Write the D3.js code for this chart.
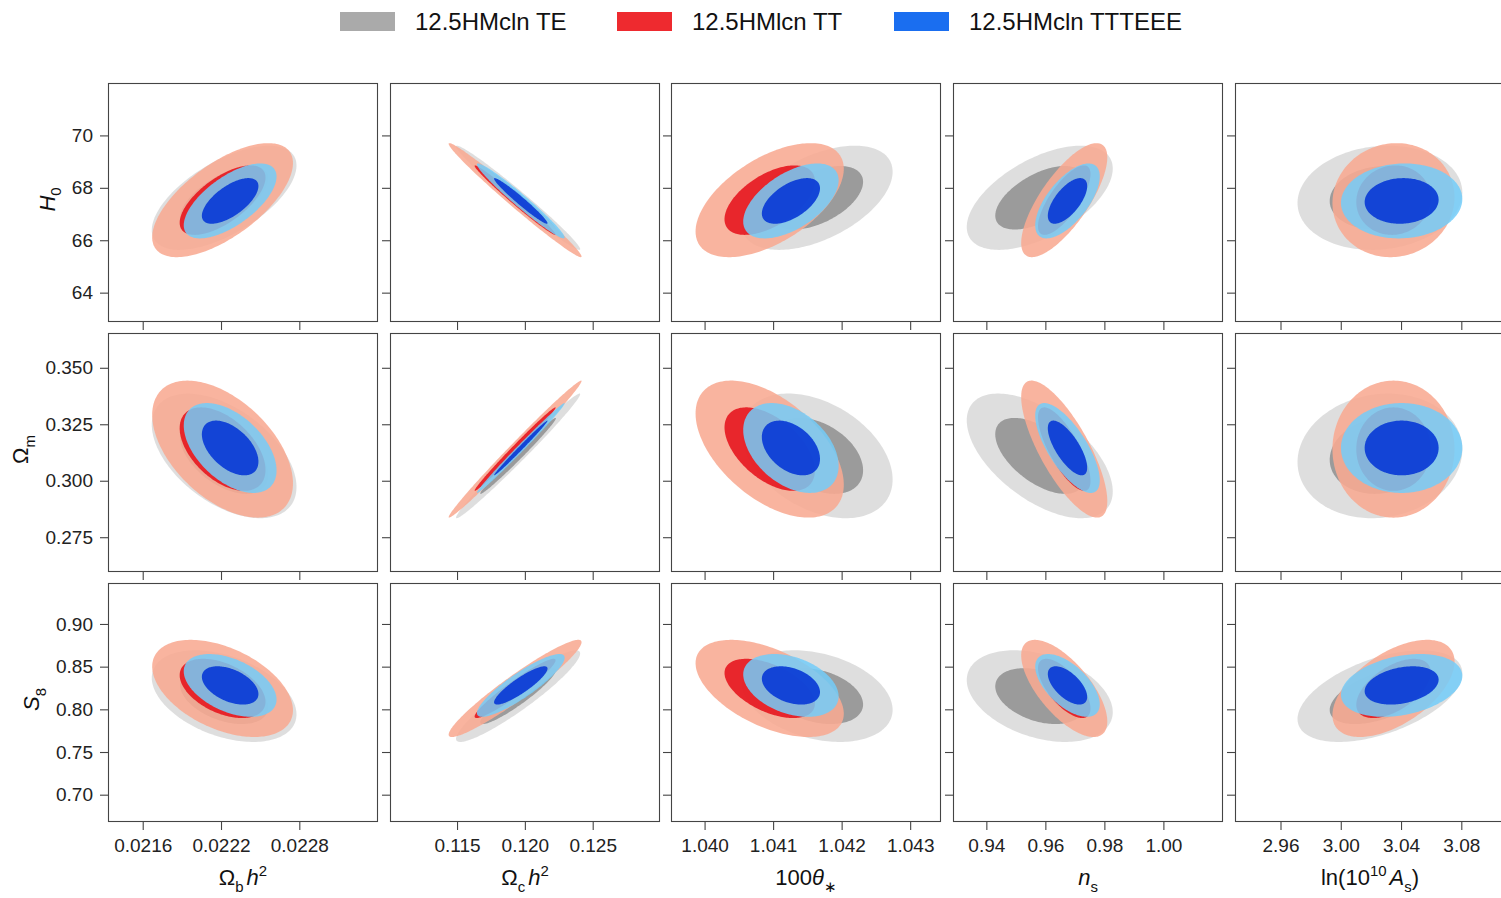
<!DOCTYPE html>
<html>
<head>
<meta charset="utf-8">
<title>12.5HMcln TE / TT / TTTEEE</title>
<script src="https://cdn.jsdelivr.net/npm/d3@7"></script>
<style>
    body { margin: 0; background: #fff; }
    svg { display: block; font-family: "Liberation Sans", Arial, sans-serif; }
</style>
</head>
<body>
<div id="graph"></div>
<script>
"use strict";

// columns (x) and rows (y) of the grid
const xParams = ["ombh2", "omch2", "theta", "ns", "logA"];
const yParams = ["H0", "Om", "S8"];

const xDomains = [[0.021334, 0.023403], [0.11006, 0.12996], [1.03951, 1.04345], [0.9287, 1.0202], [2.9298, 3.109]];
const yDomains = [[62.88, 72.0], [0.2596, 0.3654], [0.668, 0.948]];

const xTicks = [[0.0216, 0.0222, 0.0228], [0.115, 0.120, 0.125], [1.040, 1.041, 1.042, 1.043],
                [0.94, 0.96, 0.98, 1.00], [2.96, 3.00, 3.04, 3.08]];
const xTickDigits = [4, 3, 3, 2, 2];
const yTicks = [[64, 66, 68, 70], [0.275, 0.300, 0.325, 0.350], [0.70, 0.75, 0.80, 0.85, 0.90]];
const yTickDigits = [0, 3, 2];

const seriesNames = ["12.5HMcln TE", "12.5HMlcn TT", "12.5HMcln TTTEEE"];

// per series: mean / sigma of column params, then row params
const teXMean  = [0.022224, 0.1195, 1.04164, 0.9581, 3.026];
const teXSigma = [0.000223, 0.00184, 0.000444, 0.00995, 0.022];
const teYMean  = [67.62, 0.311, 0.8155];
const teYSigma = [0.80, 0.0111, 0.0216];
// correlation [row][col]
const teCorr = [[ 0.62, -0.985,  0.50,  0.56, 0.10],
                [-0.50,  0.990, -0.38, -0.57, 0.10],
                [-0.40,  0.930, -0.30, -0.35, 0.50]];

const ttXMean  = [0.022212, 0.11928, 1.04095, 0.9664, 3.035];
const ttXSigma = [0.000217, 0.00197, 0.000435, 0.00587, 0.0163];
const ttYMean  = [67.53, 0.314, 0.8245];
const ttYSigma = [0.875, 0.0122, 0.0229];
const ttCorr = [[ 0.65, -0.988,  0.55,  0.75, 0.05],
                [-0.50,  0.993, -0.52, -0.76, 0.00],
                [-0.45,  0.950, -0.52, -0.68, 0.55]];

const allXMean  = [0.02227, 0.1197, 1.04126, 0.9675, 3.0404];
const allXSigma = [0.000143, 0.0013, 0.00028, 0.0044, 0.0162];
const allYMean  = [67.5, 0.3145, 0.828];
const allYSigma = [0.575, 0.0080, 0.0148];
const allCorr = [[ 0.65, -0.975,  0.55,  0.65, 0.05],
                 [-0.50,  0.994, -0.40, -0.72, 0.00],
                 [-0.45,  0.880, -0.35, -0.60, 0.30]];

// 95% and 68% radii of a 2D gaussian
const levels = [2.486, 1.515];

(function() {
    const width = 1501, height = 898;
    const colX = [108, 390, 671, 953, 1235];
    const rowY = [83, 333, 583];
    const panelW = 270, panelH = 239;
    const tickLen = 8;

    const series = [
        {name: seriesNames[0], xm: teXMean, xs: teXSigma, ym: teYMean, ys: teYSigma, corr: teCorr,
         fill: [["#c8c8c8", 0.6], ["#8a8a8a", 0.8]], patch: "#aaaaaa"},
        {name: seriesNames[1], xm: ttXMean, xs: ttXSigma, ym: ttYMean, ys: ttYSigma, corr: ttCorr,
         fill: [["#f8aa92", 0.88], ["#e6161f", 0.9]], patch: "#ee2a2f"},
        {name: seriesNames[2], xm: allXMean, xs: allXSigma, ym: allYMean, ys: allYSigma, corr: allCorr,
         fill: [["#73ccf9", 0.85], ["#0737d5", 0.9]], patch: "#1a6ef0"}
    ];

    const xLabels = [
        [{t: "Ω"}, {t: "b", sub: true}, {t: "h", it: true, dx: 3}, {t: "2", sup: true}],
        [{t: "Ω"}, {t: "c", sub: true}, {t: "h", it: true, dx: 3}, {t: "2", sup: true}],
        [{t: "100"}, {t: "θ", it: true}, {t: "∗", sub: true}],
        [{t: "n", it: true}, {t: "s", sub: true}],
        [{t: "ln(10"}, {t: "10", sup: true}, {t: "A", it: true, dx: 3}, {t: "s", sub: true}, {t: ")"}]
    ];
    const yLabels = [
        [{t: "H", it: true}, {t: "0", sub: true}],
        [{t: "Ω"}, {t: "m", sub: true}],
        [{t: "S", it: true}, {t: "8", sub: true}]
    ];

    window.addEventListener("load", init);

    function init() {
        const svg = d3.select("#graph")
                      .append("svg")
                          .attr("width", width)
                          .attr("height", height);

        drawLegend(svg);

        yParams.forEach((yp, r) => {
            xParams.forEach((xp, c) => drawPanel(svg, r, c));
        });

        drawLabels(svg);
    }

    function drawPanel(svg, r, c) {
        const x = d3.scaleLinear().domain(xDomains[c]).range([colX[c], colX[c] + panelW]);
        const y = d3.scaleLinear().domain(yDomains[r]).range([rowY[r] + panelH, rowY[r]]);

        const clipId = "clip-" + r + "-" + c;
        svg.append("clipPath").attr("id", clipId)
           .append("rect")
               .attr("x", colX[c]).attr("y", rowY[r])
               .attr("width", panelW).attr("height", panelH);

        const g = svg.append("g").attr("clip-path", "url(#" + clipId + ")");
        const line = d3.line().x(d => x(d[0])).y(d => y(d[1])).curve(d3.curveLinearClosed);

        series.forEach(s => {
            levels.forEach((k, li) => {
                g.append("path")
                    .attr("d", line(ellipse(s.xm[c], s.xs[c], s.ym[r], s.ys[r], s.corr[r][c], k)))
                    .attr("fill", s.fill[li][0])
                    .attr("fill-opacity", s.fill[li][1]);
            });
        });

        // frame
        svg.append("rect")
            .attr("x", colX[c] + 0.5).attr("y", rowY[r] + 0.5)
            .attr("width", panelW - 1).attr("height", panelH - 1)
            .attr("fill", "none").attr("stroke", "#444").attr("stroke-width", 1.1);

        // left ticks
        const ay = svg.append("g")
            .attr("transform", "translate(" + colX[c] + ",0)")
            .call(d3.axisLeft(y).tickValues(yTicks[r]).tickSize(tickLen).tickPadding(7)
                  .tickFormat(c === 0 ? d3.format("." + yTickDigits[r] + "f") : ""));
        styleAxis(ay);

        // bottom ticks
        const ax = svg.append("g")
            .attr("transform", "translate(0," + (rowY[r] + panelH) + ")")
            .call(d3.axisBottom(x).tickValues(xTicks[c]).tickSize(tickLen).tickPadding(9)
                  .tickFormat(r === 2 ? d3.format("." + xTickDigits[c] + "f") : ""));
        styleAxis(ax);
        if (c === 0) ay.attr("class", "ylab-axis");
    }

    function styleAxis(a) {
        a.select(".domain").remove();
        a.selectAll(".tick line").attr("stroke", "#444").attr("stroke-width", 1.1);
        a.selectAll(".tick text")
            .attr("fill", "#222")
            .style("font-size", "19px")
            .style("font-family", "'Liberation Sans', Arial, sans-serif");
    }

    // closed outline of a correlated gaussian contour
    function ellipse(mx, sx, my, sy, rho, k) {
        const q = Math.sqrt(1 - rho * rho);
        return d3.range(0, 2 * Math.PI, Math.PI / 90).map(t => [
            mx + k * sx * Math.cos(t),
            my + k * sy * (rho * Math.cos(t) + q * Math.sin(t))
        ]);
    }

    function drawLegend(svg) {
        const lg = svg.append("g");
        series.forEach((s, i) => {
            const px = 340 + i * 277;
            lg.append("rect")
                .attr("x", px).attr("y", 12)
                .attr("width", 55).attr("height", 19)
                .attr("fill", s.patch);
            lg.append("text")
                .attr("x", px + 75).attr("y", 30)
                .style("font-size", "24px")
                .attr("fill", "#111")
                .text(s.name);
        });
    }

    function richText(sel, parts, size) {
        let shift = 0;
        parts.forEach(p => {
            const target = p.sub ? size * 0.3 : (p.sup ? -size * 0.4 : 0);
            const ts = sel.append("tspan")
                .attr("dy", target - shift)
                .style("font-size", (p.sub || p.sup ? size * 0.68 : size) + "px")
                .text(p.t);
            if (p.dx) ts.attr("dx", p.dx);
            if (p.it) ts.style("font-style", "italic");
            shift = target;
        });
    }

    function drawLabels(svg) {
        const size = 22;
        xLabels.forEach((parts, c) => {
            const t = svg.append("text")
                .attr("x", colX[c] + panelW / 2).attr("y", 885)
                .attr("text-anchor", "middle")
                .attr("fill", "#111")
                .style("font-size", size + "px");
            richText(t, parts, size);
        });

        // y labels sit just left of the widest tick label in column 0
        const axes = qsa(".ylab-axis");
        yLabels.forEach((parts, r) => {
            let left = colX[0];
            d3.select(axes[r]).selectAll(".tick text").each(function() {
                const b = this.getBBox();
                left = Math.min(left, colX[0] + b.x);
            });
            const bx = left - 17;
            const by = rowY[r] + panelH / 2 - 3;
            const t = svg.append("text")
                .attr("transform", "translate(" + bx + "," + by + ") rotate(-90)")
                .attr("text-anchor", "middle")
                .attr("fill", "#111")
                .style("font-size", size + "px");
            richText(t, parts, size);
        });
    }

    /* --- HELPER FUNCTIONS --- */

    function qsa(query) {
        return document.querySelectorAll(query);
    }
})();
</script>
</body>
</html>
